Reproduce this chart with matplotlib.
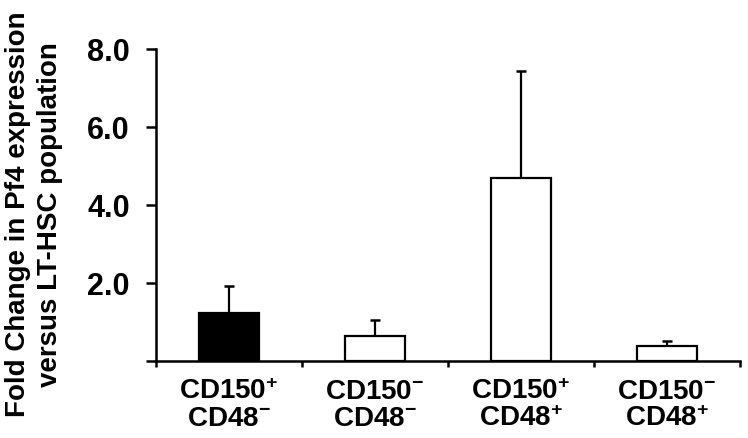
import numpy as np
import matplotlib
matplotlib.use("Agg")
import matplotlib.pyplot as plt
from matplotlib.ticker import FixedLocator, FixedFormatter

plt.rcParams['font.family'] = ['Liberation Sans', 'DejaVu Sans']
plt.rcParams['font.weight'] = 'bold'
plt.rcParams['mathtext.fontset'] = 'custom'
plt.rcParams['mathtext.rm'] = 'Liberation Sans:bold'
plt.rcParams['mathtext.bf'] = 'Liberation Sans:bold'
plt.rcParams['mathtext.it'] = 'Liberation Sans:bold'

# data
categories = ["CD150$^{+}$\nCD48$^{-}$", "CD150$^{-}$\nCD48$^{-}$",
              "CD150$^{+}$\nCD48$^{+}$", "CD150$^{-}$\nCD48$^{+}$"]
fold_change = [1.22, 0.64, 4.69, 0.38]
err_upper = [0.70, 0.42, 2.73, 0.13]
bar_colors = ["black", "white", "white", "white"]
ytick_vals = [0, 2, 4, 6, 8]
ytick_labels = ["", "2.0", "4.0", "6.0", "8.0"]

fig = plt.figure(figsize=(7.48, 4.39), dpi=100)
ax = fig.add_axes([0.2086, 0.1754, 0.7807, 0.7118])

x = np.arange(len(categories))
ax.bar(x, fold_change, width=0.41, color=bar_colors, edgecolor="black",
       linewidth=1.6, zorder=3)
ax.errorbar(x, fold_change, yerr=[np.zeros(len(x)), err_upper], fmt="none",
            ecolor="black", elinewidth=1.6, capsize=3.6, capthick=1.8, zorder=2)

ax.set_xlim(-0.5, 3.5)
ax.set_ylim(0, 8)
for s in ["top", "right"]:
    ax.spines[s].set_visible(False)
for s in ["left", "bottom"]:
    ax.spines[s].set_linewidth(1.8)

ax.yaxis.set_major_locator(FixedLocator(ytick_vals))
ax.yaxis.set_major_formatter(FixedFormatter(ytick_labels))
ax.tick_params(axis="y", length=7, width=1.8, labelsize=22, pad=12)

# category labels centred under bars, ticks at the boundaries
ax.set_xticks(np.arange(-0.5, 4.0, 1.0))
ax.set_xticklabels([])
ax.tick_params(axis="x", length=4, width=1.8)
ax.set_xticks(x, minor=True)
ax.set_xticklabels(categories, minor=True, fontsize=20, linespacing=1.05)
ax.tick_params(axis="x", which="minor", length=0, pad=12)

fig.text(0.046, 0.512, "Fold Change in Pf4 expression\nversus LT-HSC population",
         rotation=90, ha="center", va="center", multialignment="center",
         fontsize=20, fontweight="bold", linespacing=1.3)

fig.savefig("out.png", dpi=100)
